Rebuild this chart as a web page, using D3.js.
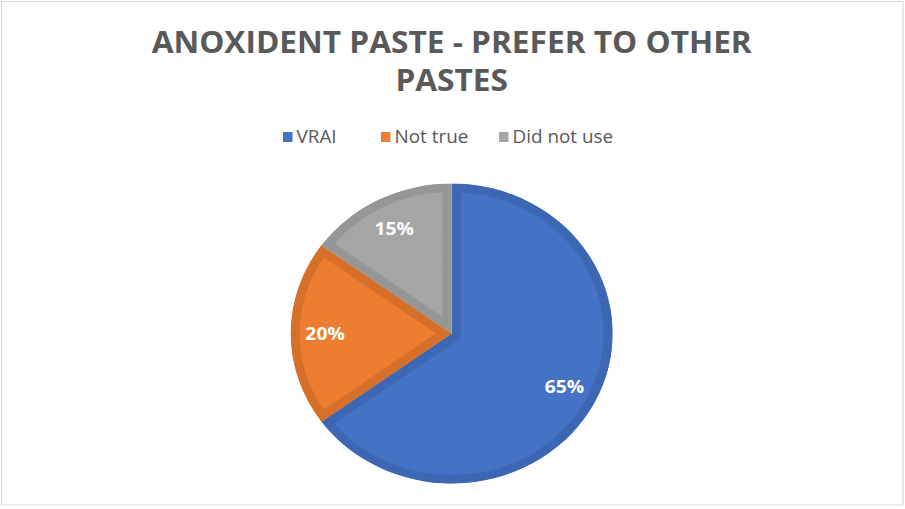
<!DOCTYPE html>
<html><head><meta charset="utf-8">
<script src="https://cdn.jsdelivr.net/npm/d3@7"></script>
<style>html,body{margin:0;padding:0;background:#fff;}svg{display:block;}</style>
</head><body>
<svg id="chart" width="905" height="509"></svg>
<script>
const titleLines = ["ANOXIDENT PASTE - PREFER TO OTHER", "PASTES"];
const categories = ["VRAI", "Not true", "Did not use"];
const values = [65, 20, 15];
const labels = ["65%", "20%", "15%"];
const fills = ["#4472C4", "#ED7D31", "#A5A5A5"];
const borders = ["#3D67B3", "#D66F2A", "#969696"];

const W = 905, H = 509, sx = 1.073;
const VW = W / sx;
const svg = d3.select("#chart")
  .attr("viewBox", `0 0 ${VW} ${H}`)
  .attr("preserveAspectRatio", "none");

svg.append("rect").attr("x", 1.5 / sx).attr("y", 1.5).attr("width", (901.5) / sx).attr("height", 503.5)
  .attr("fill", "#fff").attr("stroke", "#D9D9D9").attr("stroke-width", 1.2)
  .attr("vector-effect", "non-scaling-stroke");

const cx = 451.7 / sx, cy = 333.5, r = 150;

// title
svg.append("text").attr("x", cx).attr("y", 53)
  .attr("text-anchor", "middle").attr("font-family", "Open Sans").attr("font-weight", "bold")
  .attr("font-size", 29.5).attr("fill", "#595959")
  .selectAll("tspan").data(titleLines).join("tspan")
  .attr("x", cx).attr("dy", (d, i) => i === 0 ? 0 : 38).text(d => d);

// legend
const legX = [283, 381, 499].map(v => v / sx);
const leg = svg.append("g").selectAll("g").data(categories).join("g")
  .attr("transform", (d, i) => `translate(${legX[i]},0)`);
leg.append("rect").attr("x", 0).attr("y", 132).attr("width", 9.5 / sx).attr("height", 10)
  .attr("fill", (d, i) => fills[i]);
leg.append("text").attr("x", 13.5 / sx).attr("y", 143.5)
  .attr("font-family", "Open Sans").attr("font-size", 17.6).attr("fill", "#595959")
  .text(d => d);

// pie
const pie = d3.pie().sort(null).value(d => d);
const arcs = pie(values);
const arc = d3.arc().innerRadius(0).outerRadius(r);
const g = svg.append("g").attr("transform", `translate(${cx},${cy})`);
const defs = svg.append("defs");
arcs.forEach((a, i) => {
  defs.append("clipPath").attr("id", "clip" + i).append("path").attr("d", arc(a));
});
g.selectAll("path.slice").data(arcs).join("path")
  .attr("class", "slice")
  .attr("d", arc)
  .attr("fill", (d, i) => fills[i])
  .attr("stroke", (d, i) => borders[i])
  .attr("stroke-width", 17)
  .attr("stroke-linejoin", "round")
  .attr("clip-path", (d, i) => `url(#clip${i})`);

const labelArc = d3.arc().innerRadius(118).outerRadius(118);
g.selectAll("text.lbl").data(arcs).join("text")
  .attr("class", "lbl")
  .attr("transform", d => `translate(${labelArc.centroid(d)})`)
  .attr("text-anchor", "middle").attr("dy", "0.35em")
  .attr("font-family", "Open Sans").attr("font-weight", "bold").attr("font-size", 18)
  .attr("fill", "#fff")
  .text((d, i) => labels[i]);
</script>
</body></html>
